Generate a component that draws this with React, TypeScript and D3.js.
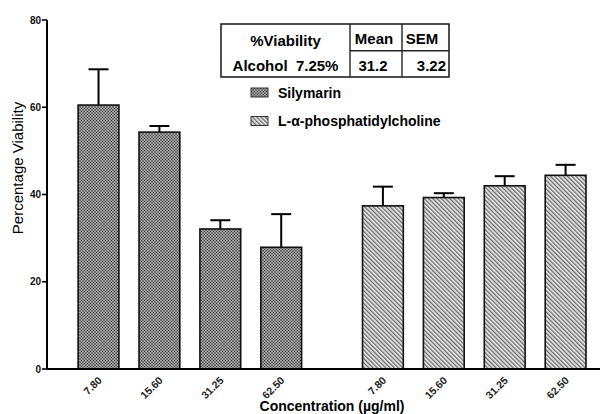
import React from "react";
import * as d3 from "d3";

// values
const concentrations = ["7.80", "15.60", "31.25", "62.50"];
const silymarinMean = [60.5, 54.3, 32.1, 27.9];
const silymarinErr = [8.2, 1.4, 2.0, 7.6];
const lecithinMean = [37.4, 39.3, 42.0, 44.4];
const lecithinErr = [4.4, 1.0, 2.2, 2.4];
const yTicks = [0, 20, 40, 60, 80];
const seriesNames = ["Silymarin", "L-\u03b1-phosphatidylcholine"];
const tableLabel = ["%Viability", "Alcohol  7.25%"];
const tableHead = ["Mean", "SEM"];
const tableVals = ["31.2", "3.22"];

const W = 604;
const H = 414;
const margin = { top: 20, right: 4, bottom: 45, left: 47 };
const groupGap = 4.67; // slot offset of the second group
const font = "'Liberation Sans', Arial, sans-serif";

const App = () => {
  const yScale = d3
    .scaleLinear()
    .domain([0, 80])
    .range([H - margin.bottom, margin.top]);

  // slot units -> pixels
  const xScale = d3
    .scaleLinear()
    .domain([-0.846, 8.235])
    .range([margin.left, W - margin.right]);
  const step = xScale(1) - xScale(0);
  const barW = step * 0.67;
  const capW = 20;

  const bars = [
    ...silymarinMean.map((v, i) => ({
      label: concentrations[i],
      value: v,
      err: silymarinErr[i],
      slot: i,
      fill: "url(#dots)",
    })),
    ...lecithinMean.map((v, i) => ({
      label: concentrations[i],
      value: v,
      err: lecithinErr[i],
      slot: i + groupGap,
      fill: "url(#hatch)",
    })),
  ];

  const y0 = yScale(0);

  return (
    <svg
      width={W}
      height={H}
      style={{ position: "absolute", left: 0, top: 0, background: "#fff" }}
      fontFamily={font}
    >
      <defs>
        <pattern id="dots" width={3} height={3} patternUnits="userSpaceOnUse">
          <rect width={3} height={3} fill="#868686" />
          <rect width={1} height={1} fill="#333" />
          <rect x={1.5} y={1.5} width={1} height={1} fill="#333" />
          <rect x={1.5} y={0} width={1} height={1} fill="#c4c4c4" />
          <rect x={0} y={1.5} width={1} height={1} fill="#c4c4c4" />
        </pattern>
        <pattern
          id="hatch"
          width={3}
          height={3}
          patternUnits="userSpaceOnUse"
          patternTransform="rotate(-45)"
        >
          <rect width={3} height={3} fill="#ececec" />
          <rect width={1.3} height={3} fill="#666" />
        </pattern>
      </defs>

      {/* bars */}
      {bars.map((b, i) => {
        const cx = xScale(b.slot);
        const top = yScale(b.value);
        const errTop = yScale(b.value + b.err);
        const lx = cx + 4;
        const ly = y0 + 12;
        return (
          <g key={i}>
            <line x1={cx} x2={cx} y1={top} y2={errTop} stroke="#000" strokeWidth={2} />
            <line
              x1={cx - capW / 2}
              x2={cx + capW / 2}
              y1={errTop}
              y2={errTop}
              stroke="#000"
              strokeWidth={2}
            />
            <rect
              x={cx - barW / 2}
              y={top}
              width={barW}
              height={y0 - top}
              fill={b.fill}
              stroke="#111"
              strokeWidth={1.6}
            />
            <text
              x={lx}
              y={ly}
              transform={`rotate(-45, ${lx}, ${ly})`}
              textAnchor="end"
              fontSize={10.5}
              fontWeight="bold"
              fill="#222"
            >
              {b.label}
            </text>
          </g>
        );
      })}

      {/* y axis */}
      <line x1={margin.left} x2={margin.left} y1={yScale(80)} y2={y0} stroke="#000" strokeWidth={2} />
      {yTicks.map((t) => (
        <g key={t}>
          <line
            x1={margin.left - 5}
            x2={margin.left}
            y1={yScale(t)}
            y2={yScale(t)}
            stroke="#000"
            strokeWidth={1.6}
          />
          <text
            x={margin.left - 6}
            y={yScale(t) + 3.5}
            textAnchor="end"
            fontSize={10}
            fontWeight="bold"
            fill="#111"
          >
            {t}
          </text>
        </g>
      ))}
      {/* x axis */}
      <line x1={margin.left} x2={W - margin.right} y1={y0} y2={y0} stroke="#000" strokeWidth={2} />

      {/* axis titles */}
      <text
        transform={`translate(23, 168) rotate(-90)`}
        textAnchor="middle"
        fontSize={15}
        fill="#000"
      >
        Percentage Viability
      </text>
      <text x={332} y={411} textAnchor="middle" fontSize={14} fontWeight="bold" fill="#000">
        Concentration (µg/ml)
      </text>

      {/* inset table */}
      <g fontWeight="bold" fontSize={15} fill="#000">
        <rect x={221} y={24} width={228} height={53} fill="#fff" stroke="#222" strokeWidth={1.6} />
        <line x1={350} x2={350} y1={24} y2={77} stroke="#222" strokeWidth={1.4} />
        <line x1={402} x2={402} y1={24} y2={77} stroke="#222" strokeWidth={1.4} />
        <line x1={350} x2={449} y1={50.7} y2={50.7} stroke="#222" strokeWidth={1.4} />
        <text x={285.5} y={46} textAnchor="middle">{tableLabel[0]}</text>
        <text x={285.5} y={70.5} textAnchor="middle" style={{ whiteSpace: "pre" }}>
          {tableLabel[1]}
        </text>
        <text x={374} y={43.5} textAnchor="middle">{tableHead[0]}</text>
        <text x={422} y={43.5} textAnchor="middle">{tableHead[1]}</text>
        <text x={373} y={71} textAnchor="middle">{tableVals[0]}</text>
        <text x={446} y={71} textAnchor="end">{tableVals[1]}</text>
      </g>

      {/* legend */}
      {seriesNames.map((name, i) => (
        <g key={name} transform={`translate(251, ${88 + i * 28.5})`}>
          <rect
            width={17}
            height={9}
            fill={i === 0 ? "url(#dots)" : "url(#hatch)"}
            stroke="#333"
            strokeWidth={1}
          />
          <text x={27} y={9.5} fontSize={14} fontWeight="bold" fill="#000">
            {name}
          </text>
        </g>
      ))}
    </svg>
  );
};

export default App;
